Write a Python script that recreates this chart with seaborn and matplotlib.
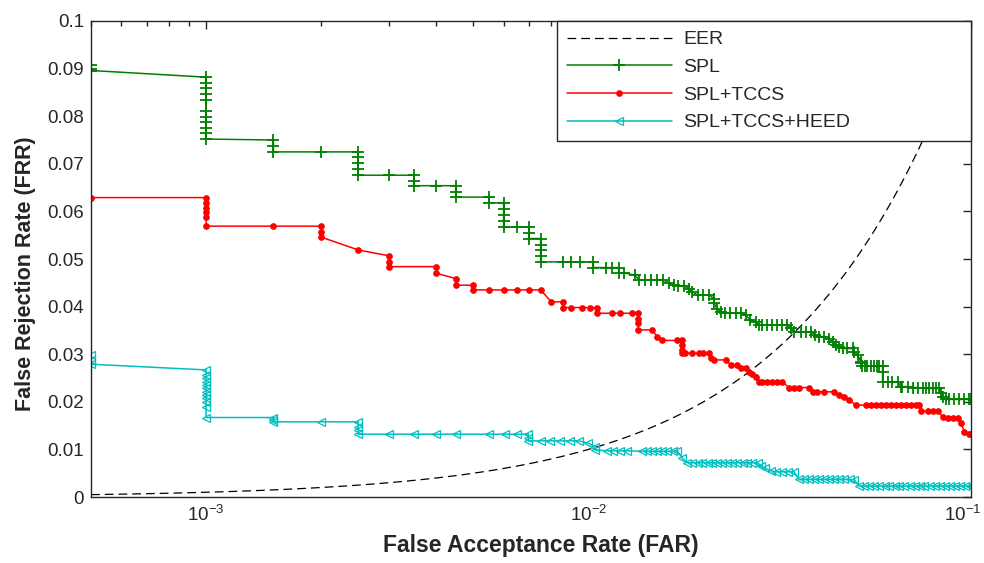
import matplotlib
matplotlib.use('Agg')
import matplotlib.pyplot as plt
import matplotlib.transforms as mtransforms
import seaborn as sns
import numpy as np
from matplotlib.ticker import FuncFormatter, LogLocator

# ---------------------------------------------------------------------------
# DATA
# ---------------------------------------------------------------------------
spl_far = [5e-4, 5e-4, 5e-4,
           1e-3, 1e-3, 1e-3, 1e-3, 1e-3, 1e-3, 1e-3, 1e-3, 1e-3, 1e-3, 1e-3,
           1.5e-3, 1.5e-3, 1.5e-3, 2e-3,
           2.5e-3, 2.5e-3, 2.5e-3, 2.5e-3, 2.5e-3,
           3e-3, 3.5e-3, 3.5e-3, 3.5e-3, 4e-3,
           4.5e-3, 4.5e-3, 4.5e-3, 5.5e-3, 5.5e-3,
           6e-3, 6e-3, 6e-3, 6e-3, 6e-3, 6.5e-3, 7e-3, 7e-3, 7e-3,
           7.5e-3, 7.5e-3, 7.5e-3, 7.5e-3, 7.5e-3,
           8.6e-3, 9.0e-3, 9.5e-3, 1.03e-2, 1.03e-2, 1.11e-2, 1.15e-2, 1.20e-2, 1.20e-2,
           1.24e-2, 1.32e-2, 1.36e-2, 1.41e-2, 1.46e-2, 1.51e-2, 1.57e-2,
           1.62e-2, 1.67e-2, 1.72e-2, 1.78e-2, 1.83e-2,
           1.87e-2, 1.93e-2, 2.00e-2, 2.07e-2, 2.13e-2, 2.13e-2, 2.17e-2,
           2.22e-2, 2.28e-2, 2.35e-2, 2.43e-2, 2.50e-2, 2.58e-2, 2.65e-2, 2.74e-2,
           2.79e-2, 2.85e-2, 2.94e-2, 3.03e-2, 3.12e-2, 3.21e-2, 3.31e-2, 3.38e-2,
           3.45e-2, 3.60e-2, 3.71e-2, 3.83e-2, 3.92e-2,
           4.01e-2, 4.14e-2, 4.26e-2, 4.35e-2, 4.44e-2, 4.53e-2, 4.62e-2, 4.76e-2,
           4.91e-2, 4.96e-2, 5.06e-2, 5.16e-2, 5.16e-2, 5.21e-2, 5.30e-2, 5.37e-2,
           5.47e-2, 5.57e-2, 5.67e-2, 5.77e-2, 5.88e-2, 5.88e-2, 5.88e-2,
           6.06e-2, 6.24e-2, 6.44e-2, 6.57e-2, 6.63e-2, 6.84e-2, 7.05e-2, 7.26e-2,
           7.48e-2, 7.64e-2, 7.79e-2, 7.95e-2, 8.11e-2, 8.28e-2, 8.36e-2, 8.45e-2,
           8.62e-2, 8.80e-2, 9.06e-2, 9.34e-2, 9.63e-2, 9.92e-2, 1e-1]
spl_frr = [0.0908, 0.0899, 0.0896,
           0.0882, 0.0870, 0.0859, 0.0847, 0.0834, 0.0811, 0.0798, 0.0788, 0.0775, 0.0765, 0.0752,
           0.0750, 0.0737, 0.0725, 0.0725,
           0.0725, 0.0715, 0.0701, 0.0689, 0.0676,
           0.0676, 0.0676, 0.0664, 0.0654, 0.0654,
           0.0654, 0.0641, 0.0630, 0.0630, 0.0618,
           0.0618, 0.0606, 0.0592, 0.0580, 0.0567, 0.0567, 0.0567, 0.0554, 0.0543,
           0.0543, 0.0529, 0.0519, 0.0507, 0.0494,
           0.0494, 0.0494, 0.0494, 0.0494, 0.0482, 0.0482, 0.0482, 0.0482, 0.0471,
           0.0471, 0.0466, 0.0456, 0.0456, 0.0456, 0.0456, 0.0456,
           0.0450, 0.0445, 0.0443, 0.0443, 0.0438,
           0.0431, 0.0424, 0.0424, 0.0424, 0.0417, 0.0407, 0.0396,
           0.0389, 0.0386, 0.0386, 0.0386, 0.0386, 0.0382, 0.0372, 0.0368,
           0.0361, 0.0361, 0.0361, 0.0361, 0.0361, 0.0361, 0.0361, 0.0355,
           0.0347, 0.0347, 0.0347, 0.0347, 0.0340,
           0.0337, 0.0337, 0.0333, 0.0326, 0.0319, 0.0316, 0.0312, 0.0312,
           0.0312, 0.0305, 0.0298, 0.0284, 0.0281, 0.0275, 0.0275, 0.0275,
           0.0275, 0.0275, 0.0275, 0.0275, 0.0275, 0.0263, 0.0242,
           0.0242, 0.0242, 0.0242, 0.0232, 0.0232, 0.0232, 0.0230, 0.0230,
           0.0228, 0.0228, 0.0228, 0.0228, 0.0228, 0.0228, 0.0218, 0.0210,
           0.0205, 0.0205, 0.0205, 0.0205, 0.0205, 0.0205, 0.0205]

tccs_far = [5e-4, 1e-3, 1e-3, 1e-3, 1e-3, 1e-3, 1e-3,
            1.5e-3, 2e-3, 2e-3, 2e-3, 2.5e-3, 3e-3, 3e-3, 3e-3, 4e-3, 4e-3,
            4.5e-3, 4.5e-3, 5e-3, 5e-3, 5.5e-3, 6e-3, 6.5e-3, 7e-3, 7.5e-3,
            8.0e-3, 8.6e-3, 8.6e-3, 9.0e-3, 9.6e-3, 1.01e-2, 1.05e-2, 1.05e-2,
            1.15e-2, 1.21e-2, 1.30e-2, 1.35e-2, 1.35e-2, 1.35e-2, 1.35e-2,
            1.47e-2, 1.51e-2, 1.56e-2, 1.71e-2, 1.76e-2, 1.76e-2, 1.76e-2, 1.76e-2,
            1.79e-2, 1.87e-2, 1.95e-2, 2.00e-2, 2.07e-2, 2.09e-2, 2.13e-2, 2.29e-2,
            2.36e-2, 2.45e-2, 2.50e-2, 2.58e-2, 2.63e-2, 2.68e-2, 2.74e-2, 2.79e-2,
            2.85e-2, 2.94e-2, 3.03e-2, 3.12e-2, 3.21e-2, 3.35e-2, 3.45e-2, 3.56e-2,
            3.78e-2, 3.86e-2, 3.97e-2, 4.14e-2, 4.39e-2, 4.53e-2, 4.67e-2, 4.81e-2,
            5.01e-2, 5.32e-2, 5.48e-2, 5.65e-2, 5.82e-2, 6.00e-2, 6.18e-2, 6.37e-2,
            6.57e-2, 6.77e-2, 6.98e-2, 7.19e-2, 7.34e-2, 7.41e-2, 7.72e-2, 7.95e-2,
            8.19e-2, 8.45e-2, 8.71e-2, 8.97e-2, 9.25e-2, 9.43e-2, 9.63e-2, 9.88e-2, 1e-1]
tccs_frr = [0.0629, 0.0629, 0.0618, 0.0608, 0.0598, 0.0588, 0.0569,
            0.0569, 0.0569, 0.0556, 0.0546, 0.0519, 0.0507, 0.0494, 0.0484, 0.0484, 0.0470,
            0.0459, 0.0445, 0.0445, 0.0435, 0.0435, 0.0435, 0.0435, 0.0435, 0.0435,
            0.0410, 0.0410, 0.0398, 0.0398, 0.0398, 0.0398, 0.0398, 0.0386,
            0.0386, 0.0386, 0.0386, 0.0386, 0.0375, 0.0365, 0.0351,
            0.0351, 0.0337, 0.0329, 0.0329, 0.0329, 0.0319, 0.0309, 0.0302,
            0.0302, 0.0302, 0.0302, 0.0302, 0.0302, 0.0291, 0.0288, 0.0288,
            0.0277, 0.0277, 0.0270, 0.0270, 0.0263, 0.0258, 0.0253, 0.0242,
            0.0242, 0.0242, 0.0242, 0.0242, 0.0242, 0.0230, 0.0230, 0.0230,
            0.0230, 0.0221, 0.0221, 0.0221, 0.0221, 0.0214, 0.0210, 0.0204,
            0.0193, 0.0193, 0.0193, 0.0193, 0.0193, 0.0193, 0.0193, 0.0193,
            0.0193, 0.0193, 0.0193, 0.0193, 0.0193, 0.0180, 0.0180, 0.0180,
            0.0180, 0.0169, 0.0165, 0.0165, 0.0165, 0.0155, 0.0137, 0.0132, 0.0132]

heed_far = [5e-4, 5e-4, 5e-4,
            1e-3, 1e-3, 1e-3, 1e-3, 1e-3, 1e-3, 1e-3, 1e-3, 1e-3, 1e-3, 1e-3, 1e-3,
            1.5e-3, 1.5e-3, 1.5e-3, 2e-3, 2.5e-3, 2.5e-3, 2.5e-3, 2.5e-3,
            3e-3, 3.5e-3, 4e-3, 4.5e-3, 5.5e-3, 6.05e-3, 6.5e-3, 6.96e-3, 6.96e-3, 6.96e-3,
            7.5e-3, 7.93e-3, 8.43e-3, 8.94e-3, 9.43e-3, 1.0e-2, 1.04e-2, 1.04e-2,
            1.12e-2, 1.16e-2, 1.21e-2, 1.26e-2, 1.38e-2, 1.42e-2, 1.47e-2, 1.51e-2,
            1.56e-2, 1.61e-2, 1.66e-2, 1.71e-2, 1.76e-2,
            1.81e-2, 1.87e-2, 1.93e-2, 1.98e-2, 2.05e-2, 2.11e-2, 2.17e-2, 2.24e-2,
            2.31e-2, 2.38e-2, 2.45e-2, 2.53e-2, 2.60e-2, 2.68e-2, 2.77e-2,
            2.82e-2, 2.90e-2, 3.00e-2, 3.10e-2, 3.21e-2, 3.33e-2, 3.45e-2,
            3.55e-2, 3.66e-2, 3.78e-2, 3.89e-2, 4.01e-2, 4.14e-2, 4.26e-2, 4.40e-2,
            4.53e-2, 4.67e-2, 4.82e-2, 4.96e-2,
            5.11e-2, 5.27e-2, 5.43e-2, 5.60e-2, 5.77e-2, 5.95e-2, 6.13e-2, 6.32e-2,
            6.51e-2, 6.71e-2, 6.92e-2, 7.13e-2, 7.35e-2, 7.57e-2, 7.81e-2, 8.05e-2,
            8.29e-2, 8.55e-2, 8.81e-2, 9.08e-2, 9.36e-2, 9.65e-2, 9.94e-2, 1e-1]
heed_frr = [0.0298, 0.0288, 0.0279,
            0.0267, 0.0256, 0.0249, 0.0242, 0.0235, 0.0228, 0.0221, 0.0214, 0.0207, 0.0200, 0.0190, 0.0167,
            0.0167, 0.0162, 0.0158, 0.0158, 0.0158, 0.0148, 0.0140, 0.0132,
            0.0132, 0.0132, 0.0132, 0.0132, 0.0132, 0.0132, 0.0132, 0.0132, 0.0125, 0.0118,
            0.0118, 0.0118, 0.0118, 0.0118, 0.0118, 0.0113, 0.0106, 0.0099,
            0.0097, 0.0097, 0.0097, 0.0097, 0.0096, 0.0096, 0.0096, 0.0096,
            0.0096, 0.0096, 0.0096, 0.0096, 0.0082,
            0.0072, 0.0072, 0.0072, 0.0072, 0.0072, 0.0072, 0.0072, 0.0072,
            0.0072, 0.0072, 0.0072, 0.0072, 0.0072, 0.0072, 0.0072,
            0.0066, 0.0060, 0.0055, 0.0053, 0.0053, 0.0053, 0.0053,
            0.0037, 0.0037, 0.0037, 0.0037, 0.0037, 0.0037, 0.0037, 0.0037,
            0.0037, 0.0037, 0.0037, 0.0036,
            0.0023, 0.0023, 0.0023, 0.0023, 0.0023, 0.0023, 0.0023, 0.0023,
            0.0023, 0.0023, 0.0023, 0.0023, 0.0023, 0.0023, 0.0023, 0.0023,
            0.0023, 0.0023, 0.0023, 0.0023, 0.0023, 0.0023, 0.0023, 0.0023]

# EER reference: the diagonal FAR = FRR
eer_far = np.logspace(np.log10(5e-4), -1, 120)
eer_frr = eer_far

y_ticks = [0, 0.01, 0.02, 0.03, 0.04, 0.05, 0.06, 0.07, 0.08, 0.09, 0.1]

# ---------------------------------------------------------------------------
# PLOT
# ---------------------------------------------------------------------------
sns.set_style('white')
plt.rcParams['font.family'] = ['Liberation Sans', 'DejaVu Sans']
plt.rcParams['mathtext.fontset'] = 'custom'
plt.rcParams['mathtext.rm'] = 'Liberation Sans'
plt.rcParams['axes.unicode_minus'] = False

fig = plt.figure(figsize=(9.84, 5.63), dpi=100)
ax = fig.add_axes([0.0925, 0.1172, 0.894, 0.8455])

green = '#008000'
red = '#ff0000'
cyan = '#00bfbf'

sns.lineplot(x=eer_far, y=eer_frr, ax=ax, color='black', lw=0.9,
             linestyle=(0, (7, 4)), estimator=None, sort=False, label='EER')
sns.lineplot(x=spl_far, y=spl_frr, ax=ax, color=green, lw=1.1, estimator=None,
             sort=False, marker='+', ms=8.5, mec=green, mew=1.3, label='SPL')
sns.lineplot(x=tccs_far, y=tccs_frr, ax=ax, color=red, lw=1.1, estimator=None,
             sort=False, marker='o', ms=4, mec=red, mfc=red, mew=0.8,
             label='SPL+TCCS')
sns.lineplot(x=heed_far, y=heed_frr, ax=ax, color=cyan, lw=1.1, estimator=None,
             sort=False, marker='<', ms=5.5, mec=cyan, mfc='none', mew=0.9,
             label='SPL+TCCS+HEED')

ax.set_xscale('log')
ax.set_xlim(5e-4, 1e-1)
ax.set_ylim(0, 0.1)
ax.set_yticks(y_ticks)
ax.yaxis.set_major_formatter(FuncFormatter(lambda v, p: f'{v:g}'))
ax.xaxis.set_major_locator(LogLocator(base=10, numticks=10))
ax.xaxis.set_minor_locator(LogLocator(base=10, subs=np.arange(2, 10), numticks=20))

for s in ax.spines.values():
    s.set_color('#262626')
    s.set_linewidth(1.0)
ax.tick_params(which='both', direction='in', top=True, right=True,
               colors='#262626', labelsize=13.5)
ax.tick_params(which='major', length=6, width=1)
ax.tick_params(which='minor', length=3.5, width=1)
ax.tick_params(axis='x', pad=6)
ax.tick_params(axis='y', pad=5)

ax.set_xlabel('False Acceptance Rate (FAR)', fontsize=16.5, fontweight='bold')
ax.set_ylabel('False Rejection Rate (FRR)', fontsize=15.5, fontweight='bold')
ax.xaxis.set_label_coords(0.511, -0.078)
ax.yaxis.set_label_coords(-0.062, 0.47)

leg = ax.legend(loc='upper left', bbox_to_anchor=(0.5295, 0.7464, 0.4705, 0.2536),
                mode='expand', borderaxespad=0, fontsize=14, handlelength=5.4,
                handletextpad=0.6, labelspacing=0.52, borderpad=0.5,
                fancybox=False, framealpha=1, edgecolor='#262626')
leg.get_frame().set_linewidth(1.0)

# nudge the 10^-1 label left so it stays inside the canvas, as in the source
fig.canvas.draw()
for tick in ax.xaxis.get_major_ticks():
    if abs(tick.get_loc() - 0.1) < 1e-9:
        off = mtransforms.ScaledTranslation(-6 / 72, 0, fig.dpi_scale_trans)
        tick.label1.set_transform(tick.label1.get_transform() + off)

fig.savefig('out.png', dpi=100)
